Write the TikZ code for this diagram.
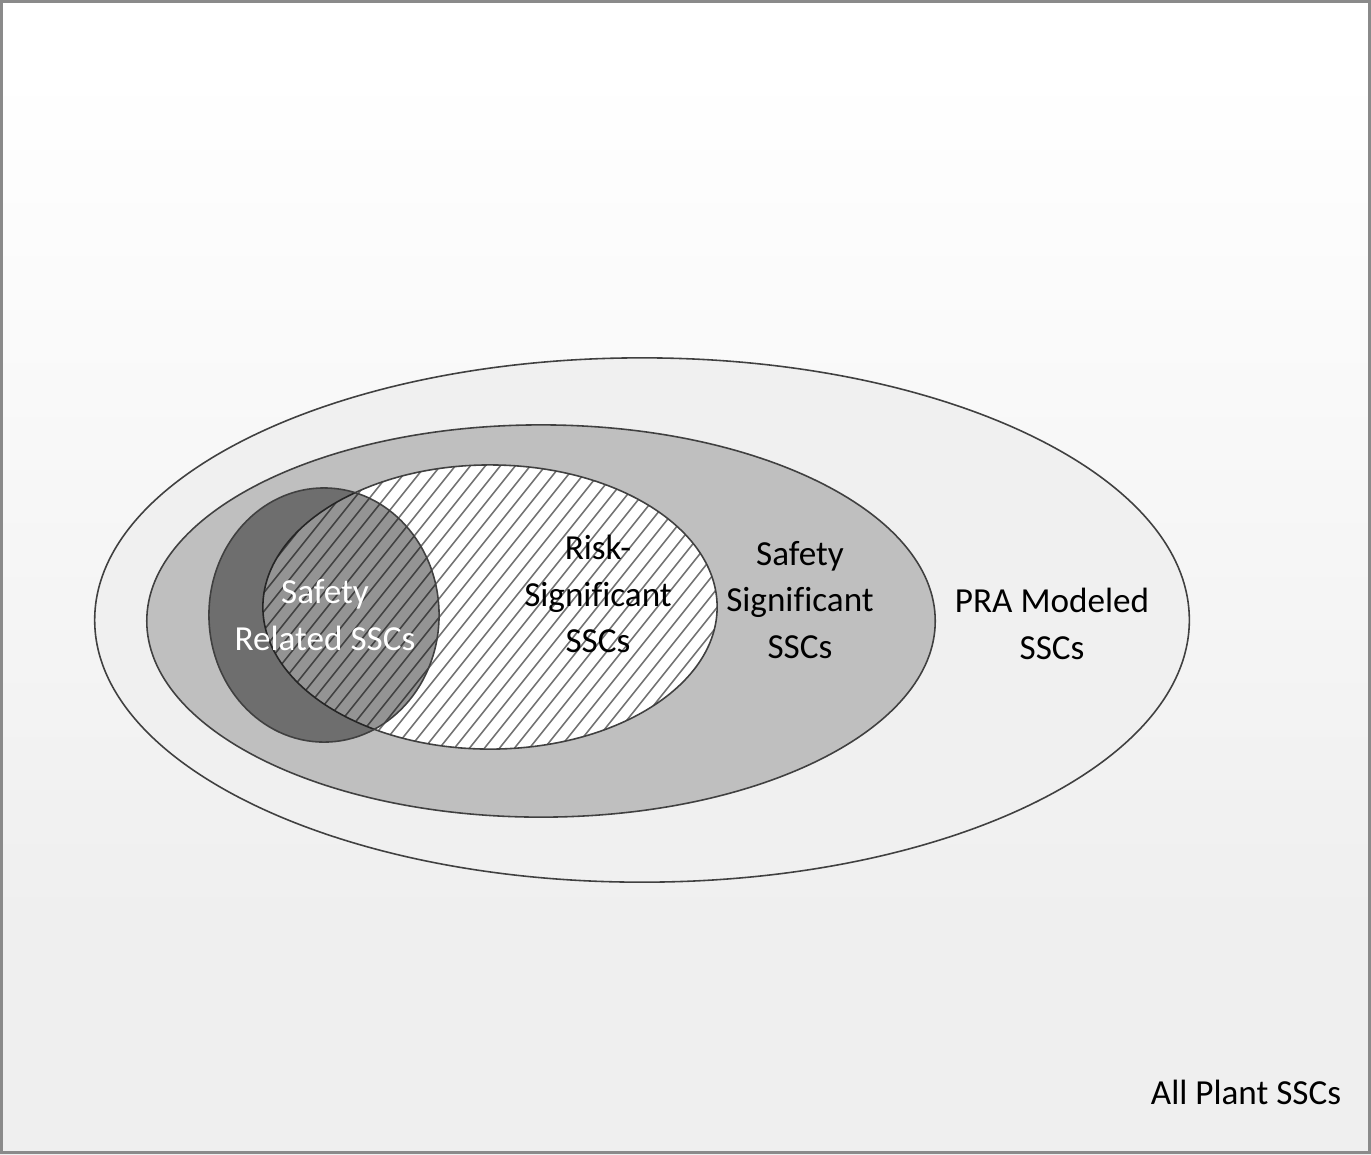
\documentclass[tikz,border=0pt]{standalone}
\usepackage{fontspec}
\setmainfont{Carlito}[Ligatures=NoCommon]
\definecolor{pagebot}{RGB}{239,239,239}
\definecolor{prafill}{RGB}{240,240,240}
\definecolor{ssfill}{RGB}{191,191,191}
\definecolor{framegray}{RGB}{138,138,138}
\pgfdeclareverticalshading{pageshade}{100bp}{color(0bp)=(pagebot); color(35bp)=(pagebot); color(72bp)=(white); color(100bp)=(white)}
\begin{document}
\begin{tikzpicture}[x=0.01cm,y=-0.01cm,
  ring/.style={draw=black!75, line width=0.45pt},
  hatchline/.style={draw=black!55, line width=0.45pt},
  lbl/.style={align=center, font=\fontsize{10}{13.3}\selectfont, inner sep=0pt}]
\useasboundingbox (0,0) rectangle (1371,1154);
% page background and frame
\shade[shading=pageshade] (0,0) rectangle (1371,1154);
\draw[framegray, line width=0.9pt] (1.6,1.6) rectangle (1369.4,1152.4);
% PRA modeled SSCs
\filldraw[ring, fill=prafill] (642,620) ellipse [x radius=5.47cm, y radius=2.62cm];
% safety significant SSCs
\filldraw[ring, fill=ssfill] (541,621) ellipse [x radius=3.94cm, y radius=1.96cm];
% risk-significant SSCs, hatched
\fill[white] (490,607) ellipse [x radius=2.27cm, y radius=1.42cm];
\begin{scope}
  \clip (490,607) ellipse [x radius=2.27cm, y radius=1.42cm];
  \foreach \k in {0,...,50}
    \draw[hatchline] (10+\k*15,760) -- ++(256,-320);
\end{scope}
\draw[ring] (490,607) ellipse [x radius=2.27cm, y radius=1.42cm];
% safety related SSCs, translucent
\filldraw[ring, fill=black, fill opacity=0.42] (324,615) ellipse [x radius=1.15cm, y radius=1.27cm];
% labels
\node[lbl, text=white] (sr) at (325,615) {Safety\\Related SSCs};
\node[lbl] (rs) at (598,594) {Risk-\\Significant\\SSCs};
\node[lbl] (ss) at (800,600) {Safety\\Significant\\SSCs};
\node[lbl] (pra) at (1052,624) {PRA Modeled\\SSCs};
\node[lbl] (all) at (1246,1092) {All Plant SSCs};
\end{tikzpicture}
\end{document}
